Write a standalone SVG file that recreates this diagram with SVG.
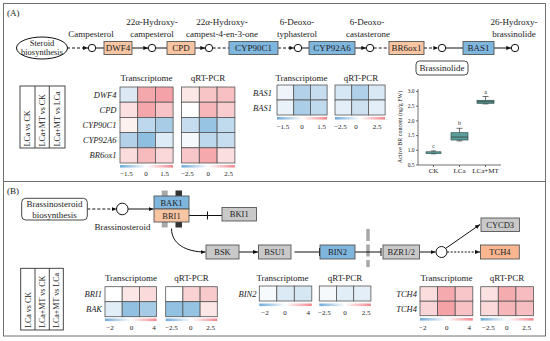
<svg xmlns="http://www.w3.org/2000/svg" width="550" height="341" viewBox="0 0 550 341">
<defs>
<style>
text{font-family:"Liberation Serif","Times New Roman",serif;fill:#222}
.m{text-anchor:middle}
.e{text-anchor:end}
.f9{font-size:9px}
.f85{font-size:8.5px}
.f8{font-size:8px}
.f7{font-size:7px}
.f6{font-size:6px}
.f55{font-size:5.5px}
.it{font-style:italic;font-size:8.5px;text-anchor:end}
.panel{fill:#fff;stroke:#707070;stroke-width:1}
.ob{fill:#F8C5A2;stroke:#555;stroke-width:0.9}
.bb{fill:#7FB6DE;stroke:#555;stroke-width:0.9}
.gb{fill:#C9C9C9;stroke:#555;stroke-width:0.9}
.tb{fill:#F9B690;stroke:#555;stroke-width:0.9}
.rb{fill:#fff;stroke:#333;stroke-width:0.9}
.ln{fill:none;stroke:#111;stroke-width:1}
.dash{stroke-dasharray:3,2}
.dot{stroke-dasharray:2,1.5}
.circ{fill:#fff;stroke:#111;stroke-width:1}
.hm rect{stroke:#555;stroke-width:0.8}
.lc{fill:none;stroke:#333;stroke-width:0.9}
.bx{fill:#5B9E9B;stroke:#2F4F4F;stroke-width:0.7}
.ax{fill:none;stroke:#333;stroke-width:0.7}
</style>
<marker id="ah" viewBox="0 0 6 6" refX="6" refY="3" markerWidth="5" markerHeight="5" orient="auto" markerUnits="userSpaceOnUse"><path d="M0,0.5 L6,3 L0,5.5z" fill="#111"/></marker>
<linearGradient id="cbg" x1="0" x2="1" y1="0" y2="0"><stop offset="0" stop-color="#6FAAD8"/><stop offset="0.5" stop-color="#fff"/><stop offset="1" stop-color="#F2868C"/></linearGradient>
</defs>

<rect class="panel" x="3.5" y="3.5" width="542" height="178"/>
<rect class="panel" x="3.5" y="181.5" width="542" height="154.5"/>
<text class="f9" x="7" y="16">(A)</text>
<text class="f9" x="7" y="194">(B)</text>

<!-- connectors -->
<g id="connectors">
<path class="ln dash" d="M67,48 H88" marker-end="url(#ah)"/>
<path class="ln" d="M95.7,48 H104"/>
<path class="ln" d="M132,48 H148.3" marker-end="url(#ah)"/>
<path class="ln" d="M155.7,48 H167"/>
<path class="ln" d="M195,48 H205.3" marker-end="url(#ah)"/>
<path class="ln dash" d="M212.7,48 H229"/>
<path class="ln dash" d="M278,48 H294.3" marker-end="url(#ah)"/>
<path class="ln" d="M301.7,48 H309"/>
<path class="ln" d="M355,48 H366.3" marker-end="url(#ah)"/>
<path class="ln dash" d="M373.7,48 H389"/>
<path class="ln dash" d="M424,48 H438.3" marker-end="url(#ah)"/>
<path class="ln" d="M445.7,48 H463"/>
<path class="ln" d="M494,48 H511.3" marker-end="url(#ah)"/>

<path class="ln dash" d="M87.3,209 H116.5" marker-end="url(#ah)"/>
<path class="ln" d="M128.1,209 H153.5" marker-end="url(#ah)"/>
<path class="ln" d="M189,215.5 H222"/>
<path class="ln" d="M207.5,211.5 V219.5"/>
<path class="ln" d="M171.5,228.5 C171.5,244 186,252 205.5,252" marker-end="url(#ah)"/>
<path class="ln" d="M239,252 H258" marker-end="url(#ah)"/>
<path class="ln" d="M294.5,252 H319.5 M319.5,248 V256"/>
<path d="M368,229 V267" fill="none" stroke="#A8A8A8" stroke-width="3.5" stroke-dasharray="12,3.5"/>
<path class="ln" d="M355,252 H381 M381,248 V256"/>
<path class="ln" d="M419.5,252 H435.5" marker-end="url(#ah)"/>
<path class="ln" d="M445.5,248.5 L480,224.5" marker-end="url(#ah)"/>
<path class="ln dot" d="M447.2,252 H480" marker-end="url(#ah)"/>
</g>

<!-- panel A pathway nodes -->
<g id="steroid-biosynthesis"><ellipse cx="42" cy="48" rx="25.5" ry="11" fill="#fff" stroke="#111"/><text class="f85 m" x="42" y="45.5">Steroid</text><text class="f85 m" x="42" y="55">biosynthesis</text></g>
<g id="c1"><circle class="circ" cx="92" cy="48" r="3.7"/><text class="f9 m" x="91" y="36.5">Campesterol</text></g>
<g id="DWF4"><rect class="ob" x="104" y="41.5" width="28" height="13"/><text class="f9 m" x="118" y="51">DWF4</text></g>
<g id="c2"><circle class="circ" cx="152" cy="48" r="3.7"/><text class="f9 m" x="152" y="25">22α-Hydroxy-</text><text class="f9 m" x="152" y="36.5">campesterol</text></g>
<g id="CPD"><rect class="ob" x="167" y="41.5" width="28" height="13"/><text class="f9 m" x="181" y="51">CPD</text></g>
<g id="c3"><circle class="circ" cx="209" cy="48" r="3.7"/><text class="f9 m" x="222" y="25">22α-Hydroxy-</text><text class="f9 m" x="222" y="36.5">campest-4-en-3-one</text></g>
<g id="CYP90C1"><rect class="bb" x="229" y="41.5" width="49" height="13"/><text class="f9 m" x="253.5" y="51">CYP90C1</text></g>
<g id="c4"><circle class="circ" cx="298" cy="48" r="3.7"/><text class="f9 m" x="297" y="25">6-Deoxo-</text><text class="f9 m" x="297" y="36.5">typhasterol</text></g>
<g id="CYP92A6"><rect class="bb" x="309" y="41.5" width="46" height="13"/><text class="f9 m" x="332" y="51">CYP92A6</text></g>
<g id="c5"><circle class="circ" cx="370" cy="48" r="3.7"/><text class="f9 m" x="367" y="25">6-Deoxo-</text><text class="f9 m" x="368" y="36.5">castasterone</text></g>
<g id="BR6ox1"><rect class="ob" x="389" y="41.5" width="35" height="13"/><text class="f9 m" x="406.5" y="51">BR6ox1</text></g>
<g id="c6"><circle class="circ" cx="442" cy="48" r="3.7"/></g>
<g id="brassinolide"><rect class="rb" x="416" y="61" width="52" height="14" rx="3.5"/><text class="f9 m" x="442" y="71">Brassinolide</text></g>
<g id="BAS1"><rect class="bb" x="463" y="41.5" width="31" height="13"/><text class="f9 m" x="478.5" y="51">BAS1</text></g>
<g id="c7"><circle class="circ" cx="515" cy="48" r="3.7"/><text class="f9 m" x="514" y="25">26-Hydroxy-</text><text class="f9 m" x="514" y="36.5">brassinolide</text></g>

<!-- panel A comparison legend -->
<g id="legendA">
<rect class="lc" x="20" y="86" width="45" height="62"/>
<path class="lc" d="M35,86 V148 M49.3,86 V148"/>
<text class="f8" transform="translate(30.3,146.5) rotate(-90)">LCa vs CK</text>
<text class="f8" transform="translate(45,146.5) rotate(-90)">LCa+MT vs CK</text>
<text class="f8" transform="translate(59.9,146.5) rotate(-90)">LCa+MT vs LCa</text>
</g>

<!-- panel A heatmaps -->
<g id="heatmapA1" class="hm">
<text class="f9 m" x="146.5" y="80.5">Transcriptome</text>
<text class="it" x="116.5" y="97.6">DWF4</text>
<text class="it" x="116.5" y="112.8">CPD</text>
<text class="it" x="116.5" y="128">CYP90C1</text>
<text class="it" x="116.5" y="143.2">CYP92A6</text>
<text class="it" x="116.5" y="158.4">BR6ox1</text>
<rect x="120" y="87" width="17.7" height="15.2" fill="#DCE9F5"/><rect x="137.7" y="87" width="17.7" height="15.2" fill="#F5A8AC"/><rect x="155.4" y="87" width="17.7" height="15.2" fill="#F4A2A7"/>
<rect x="120" y="102.2" width="17.7" height="15.2" fill="#FCE0E1"/><rect x="137.7" y="102.2" width="17.7" height="15.2" fill="#F4A6AA"/><rect x="155.4" y="102.2" width="17.7" height="15.2" fill="#F8C3C6"/>
<rect x="120" y="117.4" width="17.7" height="15.2" fill="#FDF1F0"/><rect x="137.7" y="117.4" width="17.7" height="15.2" fill="#BDD7EC"/><rect x="155.4" y="117.4" width="17.7" height="15.2" fill="#A9CCE6"/>
<rect x="120" y="132.6" width="17.7" height="15.2" fill="#B3D2EA"/><rect x="137.7" y="132.6" width="17.7" height="15.2" fill="#8FBFE0"/><rect x="155.4" y="132.6" width="17.7" height="15.2" fill="#DDEBF6"/>
<rect x="120" y="147.8" width="17.7" height="15.2" fill="#FBDCDD"/><rect x="137.7" y="147.8" width="17.7" height="15.2" fill="#F7BBBE"/><rect x="155.4" y="147.8" width="17.7" height="15.2" fill="#FAD8DA"/>
<rect x="120" y="165" width="53" height="2.6" fill="url(#cbg)" style="stroke:none"/>
<text class="f7 m" x="126.5" y="176">−1.5</text><text class="f7 m" x="146" y="176">0</text><text class="f7 m" x="164.5" y="176">1.5</text>
</g>
<g id="heatmapA2" class="hm">
<text class="f9 m" x="208" y="80.5">qRT-PCR</text>
<rect x="181.5" y="87" width="17.8" height="15.2" fill="#FCE7E7"/><rect x="199.3" y="87" width="17.8" height="15.2" fill="#F8C5C7"/><rect x="217.1" y="87" width="17.8" height="15.2" fill="#F8C0C3"/>
<rect x="181.5" y="102.2" width="17.8" height="15.2" fill="#FFFFFF"/><rect x="199.3" y="102.2" width="17.8" height="15.2" fill="#F7B7BA"/><rect x="217.1" y="102.2" width="17.8" height="15.2" fill="#F9CDCF"/>
<rect x="181.5" y="117.4" width="17.8" height="15.2" fill="#C6DDF0"/><rect x="199.3" y="117.4" width="17.8" height="15.2" fill="#97C4E3"/><rect x="217.1" y="117.4" width="17.8" height="15.2" fill="#C0DAEE"/>
<rect x="181.5" y="132.6" width="17.8" height="15.2" fill="#F5F9FC"/><rect x="199.3" y="132.6" width="17.8" height="15.2" fill="#BDD8ED"/><rect x="217.1" y="132.6" width="17.8" height="15.2" fill="#C7DEF0"/>
<rect x="181.5" y="147.8" width="17.8" height="15.2" fill="#F8C6C9"/><rect x="199.3" y="147.8" width="17.8" height="15.2" fill="#F5A9AD"/><rect x="217.1" y="147.8" width="17.8" height="15.2" fill="#FBDEDF"/>
<rect x="181.5" y="165" width="53.4" height="2.6" fill="url(#cbg)" style="stroke:none"/>
<text class="f7 m" x="187.5" y="176">−2.5</text><text class="f7 m" x="208.3" y="176">0</text><text class="f7 m" x="228.5" y="176">2.5</text>
</g>
<g id="heatmapA3" class="hm">
<text class="f9 m" x="301.5" y="80.5">Transcriptome</text>
<text class="it" x="272" y="95.5">BAS1</text>
<text class="it" x="272" y="110.5">BAS1</text>
<rect x="277" y="85" width="16.7" height="15" fill="#EEF4FA"/><rect x="293.7" y="85" width="16.7" height="15" fill="#B3D2EA"/><rect x="310.4" y="85" width="16.7" height="15" fill="#C6DDEF"/>
<rect x="277" y="100" width="16.7" height="15" fill="#E9F1F9"/><rect x="293.7" y="100" width="16.7" height="15" fill="#ABCEE8"/><rect x="310.4" y="100" width="16.7" height="15" fill="#BFD9ED"/>
<rect x="277" y="117" width="50" height="2.6" fill="url(#cbg)" style="stroke:none"/>
<text class="f7 m" x="283" y="128.5">−1.5</text><text class="f7 m" x="302" y="128.5">0</text><text class="f7 m" x="321.5" y="128.5">1.5</text>
</g>
<g id="heatmapA4" class="hm">
<text class="f9 m" x="361" y="80.5">qRT-PCR</text>
<rect x="335" y="85" width="16.7" height="15" fill="#D5E6F4"/><rect x="351.7" y="85" width="16.7" height="15" fill="#B0D0E9"/><rect x="368.4" y="85" width="16.7" height="15" fill="#D9E8F5"/>
<rect x="335" y="100" width="16.7" height="15" fill="#E3EEF8"/><rect x="351.7" y="100" width="16.7" height="15" fill="#CDE1F1"/><rect x="368.4" y="100" width="16.7" height="15" fill="#E3EEF8"/>
<rect x="335" y="117" width="50" height="2.6" fill="url(#cbg)" style="stroke:none"/>
<text class="f7 m" x="340.5" y="128.5">−2.5</text><text class="f7 m" x="356" y="128.5">0</text><text class="f7 m" x="377" y="128.5">2.5</text>
</g>

<!-- box plot -->
<g id="boxplot">
<path class="ax" d="M418,89 V165 H501"/>
<path class="ax" d="M416,165 H418 M416,150.3 H418 M416,135.6 H418 M416,120.9 H418 M416,106.2 H418 M416,91.5 H418 M433.5,165 V167 M459.5,165 V167 M485.5,165 V167"/>
<text class="f55 e" x="414.5" y="166.8">0.5</text>
<text class="f55 e" x="414.5" y="152.1">1.0</text>
<text class="f55 e" x="414.5" y="137.4">1.5</text>
<text class="f55 e" x="414.5" y="122.7">2.0</text>
<text class="f55 e" x="414.5" y="108">2.5</text>
<text class="f55 e" x="414.5" y="93.3">3.0</text>
<text class="f6 m" transform="translate(401.5,127) rotate(-90)">Active BR concent (ng/g FW)</text>
<path class="ax" d="M433.5,150.9 V151.8 M433.5,153.2 V153.8 M431,150.9 H436 M431,153.8 H436"/>
<rect class="bx" x="426" y="151.8" width="15" height="1.6"/>
<path class="ax" d="M459.5,128.3 V132.7 M459.5,140 V140.9 M456.5,128.3 H462.5 M456.5,140.9 H462.5"/>
<rect class="bx" x="451" y="132.7" width="17" height="7.3"/>
<path class="ax" d="M451,137.1 H468"/>
<path class="ax" d="M485.5,96.5 V100.3 M485.5,103.3 V103.9 M482.5,96.5 H488.5 M482.5,103.9 H488.5"/>
<rect class="bx" x="477" y="100.3" width="17" height="3"/>
<path class="ax" d="M477,101.8 H494"/>
<text class="f6 m" x="433.5" y="147.5">c</text>
<text class="f6 m" x="459.5" y="125">b</text>
<text class="f6 m" x="485.5" y="93.5">a</text>
<text class="f7 m" x="433.5" y="173">CK</text>
<text class="f7 m" x="459.5" y="173">LCa</text>
<text class="f7 m" x="485.5" y="173">LCa+MT</text>
</g>

<!-- panel B nodes -->
<g id="br-biosynthesis"><rect class="rb" x="21.7" y="198.3" width="65.6" height="21.7" rx="4"/><text class="f9 m" x="54.5" y="207.3">Brassinosteroid</text><text class="f9 m" x="54.5" y="217.8">biosynthesis</text></g>
<g id="brassinosteroid"><circle class="circ" cx="122.3" cy="209" r="5.8"/><text class="f9 m" x="122.5" y="229.5">Brassinosteroid</text></g>
<g id="BAK1-BRI1">
<rect x="161.7" y="190.5" width="6" height="5.5" fill="#A9A9A9"/><rect x="175.5" y="190.5" width="6.5" height="5.5" fill="#333"/>
<rect x="161.7" y="222" width="6" height="5.5" fill="#A9A9A9"/><rect x="175.5" y="222" width="6.5" height="5.5" fill="#333"/>
<rect class="bb" x="154" y="196" width="35" height="13"/><text class="f85 m" x="171.5" y="205.8">BAK1</text>
<rect class="ob" x="154" y="209" width="35" height="13"/><text class="f85 m" x="171.5" y="218.8">BRI1</text>
</g>
<g id="BKI1"><rect class="gb" x="222" y="207.5" width="34.5" height="13.5"/><text class="f85 m" x="239.2" y="217.3">BKI1</text></g>
<g id="BSK"><rect class="gb" x="206" y="245" width="33" height="14"/><text class="f85 m" x="222.5" y="255">BSK</text></g>
<g id="BSU1"><rect class="gb" x="258.5" y="245" width="32.5" height="14"/><text class="f85 m" x="274.7" y="255">BSU1</text></g>
<g id="BIN2"><rect class="bb" x="320" y="245" width="35" height="14"/><text class="f85 m" x="337.5" y="255">BIN2</text></g>
<g id="BZR1-2"><rect class="gb" x="383" y="245" width="36.5" height="14"/><text class="f85 m" x="401.2" y="255">BZR1/2</text></g>
<g id="c8"><circle class="circ" cx="441.5" cy="252" r="5.5"/></g>
<g id="CYCD3"><rect class="gb" x="481" y="218" width="38.5" height="13.5"/><text class="f85 m" x="500.2" y="227.8">CYCD3</text></g>
<g id="TCH4"><rect class="tb" x="480.5" y="245" width="38.8" height="14"/><text class="f85 m" x="499.9" y="255">TCH4</text></g>

<!-- panel B legend -->
<g id="legendB">
<rect class="lc" x="20.7" y="268.3" width="42.6" height="61.7"/>
<path class="lc" d="M35,268.3 V330 M49.3,268.3 V330"/>
<text class="f8" transform="translate(30.6,328) rotate(-90)">LCa vs CK</text>
<text class="f8" transform="translate(45,328) rotate(-90)">LCa+MT vs CK</text>
<text class="f8" transform="translate(59.1,328) rotate(-90)">LCa+MT vs LCa</text>
</g>

<g id="heatmapB1" class="hm">
<text class="f9 m" x="131" y="280.5">Transcriptome</text>
<text class="it" x="102" y="297.3">BRI1</text>
<text class="it" x="102" y="312.3">BAK</text>
<rect x="105" y="286.7" width="17.2" height="15" fill="#FFFFFF"/><rect x="122.2" y="286.7" width="17.2" height="15" fill="#FCE5E5"/><rect x="139.4" y="286.7" width="17.2" height="15" fill="#FADADB"/>
<rect x="105" y="301.7" width="17.2" height="15" fill="#E1EDF7"/><rect x="122.2" y="301.7" width="17.2" height="15" fill="#91C0E1"/><rect x="139.4" y="301.7" width="17.2" height="15" fill="#A6CBE6"/>
<rect x="105" y="318.5" width="51.6" height="2.6" fill="url(#cbg)" style="stroke:none"/>
<text class="f7 m" x="110" y="329.5">−2</text><text class="f7 m" x="131.5" y="329.5">0</text><text class="f7 m" x="154" y="329.5">4</text>
</g>
<g id="heatmapB2" class="hm">
<text class="f9 m" x="191.5" y="280.5">qRT-PCR</text>
<rect x="165.7" y="286.7" width="17.2" height="15" fill="#FFFFFF"/><rect x="182.9" y="286.7" width="17.2" height="15" fill="#F9D2D4"/><rect x="200.1" y="286.7" width="17.2" height="15" fill="#F8CACC"/>
<rect x="165.7" y="301.7" width="17.2" height="15" fill="#93C1E2"/><rect x="182.9" y="301.7" width="17.2" height="15" fill="#96C3E2"/><rect x="200.1" y="301.7" width="17.2" height="15" fill="#FCE6E6"/>
<rect x="165.7" y="318.5" width="51.6" height="2.6" fill="url(#cbg)" style="stroke:none"/>
<text class="f7 m" x="171.5" y="329.5">−2.5</text><text class="f7 m" x="190.7" y="329.5">0</text><text class="f7 m" x="210.7" y="329.5">2.5</text>
</g>
<g id="heatmapB3" class="hm">
<text class="f9 m" x="282.5" y="280.5">Transcriptome</text>
<text class="it" x="256.5" y="296.5">BIN2</text>
<rect x="259.3" y="286" width="17.5" height="15" fill="#F7FAFD"/><rect x="276.8" y="286" width="17.5" height="15" fill="#DCEAF5"/><rect x="294.3" y="286" width="17.5" height="15" fill="#D6E7F4"/>
<rect x="259.3" y="303.5" width="52.5" height="2.6" fill="url(#cbg)" style="stroke:none"/>
<text class="f7 m" x="265" y="314.5">−2</text><text class="f7 m" x="285" y="314.5">0</text><text class="f7 m" x="308.3" y="314.5">4</text>
</g>
<g id="heatmapB4" class="hm">
<text class="f9 m" x="345" y="280.5">qRT-PCR</text>
<rect x="319.3" y="286" width="17.2" height="15" fill="#F6F9FC"/><rect x="336.5" y="286" width="17.2" height="15" fill="#E1EDF7"/><rect x="353.7" y="286" width="17.2" height="15" fill="#E3EEF8"/>
<rect x="319.3" y="303.5" width="51.6" height="2.6" fill="url(#cbg)" style="stroke:none"/>
<text class="f7 m" x="324.3" y="314.5">−2.5</text><text class="f7 m" x="345" y="314.5">0</text><text class="f7 m" x="366" y="314.5">2.5</text>
</g>
<g id="heatmapB5" class="hm">
<text class="f9 m" x="446.5" y="280.5">Transcriptome</text>
<text class="it" x="417" y="297">TCH4</text>
<text class="it" x="417" y="311.5">TCH4</text>
<rect x="420" y="286.7" width="17.6" height="14.5" fill="#FBDDDE"/><rect x="437.6" y="286.7" width="17.6" height="14.5" fill="#F5AAAE"/><rect x="455.2" y="286.7" width="17.6" height="14.5" fill="#F8C6C8"/>
<rect x="420" y="301.2" width="17.6" height="14.5" fill="#FAD5D7"/><rect x="437.6" y="301.2" width="17.6" height="14.5" fill="#F4A2A6"/><rect x="455.2" y="301.2" width="17.6" height="14.5" fill="#F8C2C5"/>
<rect x="420" y="318" width="52.8" height="2.6" fill="url(#cbg)" style="stroke:none"/>
<text class="f7 m" x="422.7" y="329.5">−2</text><text class="f7 m" x="446.7" y="329.5">0</text><text class="f7 m" x="469.3" y="329.5">4</text>
</g>
<g id="heatmapB6" class="hm">
<text class="f9 m" x="507" y="280.5">qRT-PCR</text>
<rect x="480.7" y="286.7" width="17.6" height="14.5" fill="#FCE1E2"/><rect x="498.3" y="286.7" width="17.6" height="14.5" fill="#F5ACAF"/><rect x="515.9" y="286.7" width="17.6" height="14.5" fill="#F7BCBF"/>
<rect x="480.7" y="301.2" width="17.6" height="14.5" fill="#FBD9DA"/><rect x="498.3" y="301.2" width="17.6" height="14.5" fill="#F6B5B8"/><rect x="515.9" y="301.2" width="17.6" height="14.5" fill="#F7BEC1"/>
<rect x="480.7" y="318" width="52.8" height="2.6" fill="url(#cbg)" style="stroke:none"/>
<text class="f7 m" x="488.3" y="329.5">−2.5</text><text class="f7 m" x="506.7" y="329.5">0</text><text class="f7 m" x="526.7" y="329.5">2.5</text>
</g>
</svg>
